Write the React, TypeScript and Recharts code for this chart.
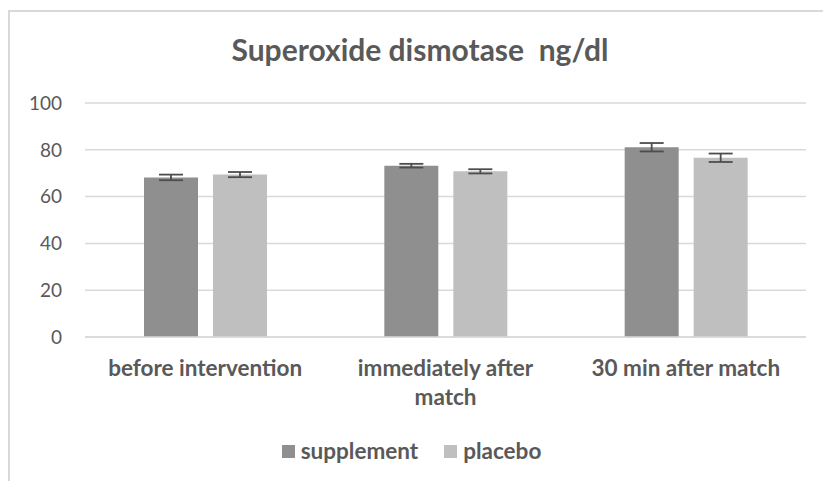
import React from "react"
import { BarChart, Bar, XAxis, YAxis, CartesianGrid, ErrorBar, Legend } from "recharts"

const categories = ["before intervention", "immediately after match", "30 min after match"]
const supplement = [68.2, 73.2, 81.1]
const placebo = [69.4, 70.8, 76.6]
const supplementErr = [1.2, 0.8, 1.8]
const placeboErr = [1.1, 0.9, 1.8]
const yTicks = [0, 20, 40, 60, 80, 100]

const FONT = "Lato, 'Open Sans', sans-serif"
const INK = "#595959"
const SUP = "#8f8f8f"
const PLA = "#bfbfbf"

const data = categories.map((c, i) => ({
  name: c,
  supplement: supplement[i],
  placebo: placebo[i],
  supErr: supplementErr[i],
  plaErr: placeboErr[i],
}))

// greedy word wrap, like the spreadsheet does for long category names
function wrap(s: string, max = 20) {
  const lines: string[] = []
  let cur = ""
  for (const w of s.split(" ")) {
    const next = cur ? cur + " " + w : w
    if (next.length > max && cur) {
      lines.push(cur)
      cur = w
    } else cur = next
  }
  if (cur) lines.push(cur)
  return lines
}

function CatTick({ x, y, payload }: any) {
  const lines = wrap(String(payload.value))
  return (
    <text
      x={x}
      y={y + 31}
      textAnchor="middle"
      style={{ fontFamily: FONT, fontSize: 22.5, fontWeight: 700, fill: INK }}
    >
      {lines.map((l, i) => (
        <tspan key={i} x={x} dy={i === 0 ? 0 : 29}>
          {l}
        </tspan>
      ))}
    </text>
  )
}

function LegendBox() {
  const items = [
    { label: "supplement", color: SUP },
    { label: "placebo", color: PLA },
  ]
  return (
    <div style={{ display: "flex", justifyContent: "center", gap: 26, fontFamily: FONT, height: 26 }}>
      {items.map((it) => (
        <div key={it.label} style={{ display: "flex", alignItems: "center", gap: 6 }}>
          <div style={{ width: 13, height: 13, background: it.color }} />
          <span style={{ fontSize: 22.5, fontWeight: 700, color: INK, lineHeight: "26px" }}>{it.label}</span>
        </div>
      ))}
    </div>
  )
}

export default function App() {
  return (
    <div style={{ position: "absolute", left: 0, top: 0, width: 823, height: 481, background: "#fff", overflow: "hidden" }}>
      <div
        style={{
          position: "absolute",
          left: 8,
          top: 10,
          width: 840,
          height: 500,
          border: "2px solid #d9d9d9",
          boxSizing: "border-box",
        }}
      />
      <div
        style={{
          position: "absolute",
          left: 0,
          top: 31,
          width: 840,
          textAlign: "center",
          whiteSpace: "pre",
          fontFamily: FONT,
          fontSize: 30,
          fontWeight: 700,
          color: INK,
          lineHeight: "36px",
        }}
      >
        {"Superoxide dismotase  ng/dl"}
      </div>
      <div style={{ position: "absolute", left: 0, top: 0 }}>
        <BarChart
          width={823}
          height={481}
          data={data}
          margin={{ top: 103, right: 17, bottom: 38, left: 25 }}
          barSize={54}
          barGap={15}
        >
          <CartesianGrid vertical={false} stroke="#d9d9d9" strokeWidth={1.5} />
          <XAxis
            dataKey="name"
            axisLine={{ stroke: "#d9d9d9", strokeWidth: 1.5 }}
            tickLine={false}
            tick={<CatTick />}
            interval={0}
            height={80}
          />
          <YAxis
            domain={[0, 100]}
            ticks={yTicks}
            interval={0}
            axisLine={false}
            tickLine={false}
            width={60}
            tickMargin={17}
            tick={{ fontFamily: FONT, fontSize: 19, fill: INK }}
          />
          <Legend
            verticalAlign="bottom"
            content={<LegendBox />}
            wrapperStyle={{ position: "absolute", top: 438, left: 0, width: 823 }}
          />
          <Bar dataKey="supplement" fill={SUP} isAnimationActive={false}>
            <ErrorBar dataKey="supErr" width={12} stroke="#4d4d4d" strokeWidth={1.8} />
          </Bar>
          <Bar dataKey="placebo" fill={PLA} isAnimationActive={false}>
            <ErrorBar dataKey="plaErr" width={12} stroke="#4d4d4d" strokeWidth={1.8} />
          </Bar>
        </BarChart>
      </div>
    </div>
  )
}
